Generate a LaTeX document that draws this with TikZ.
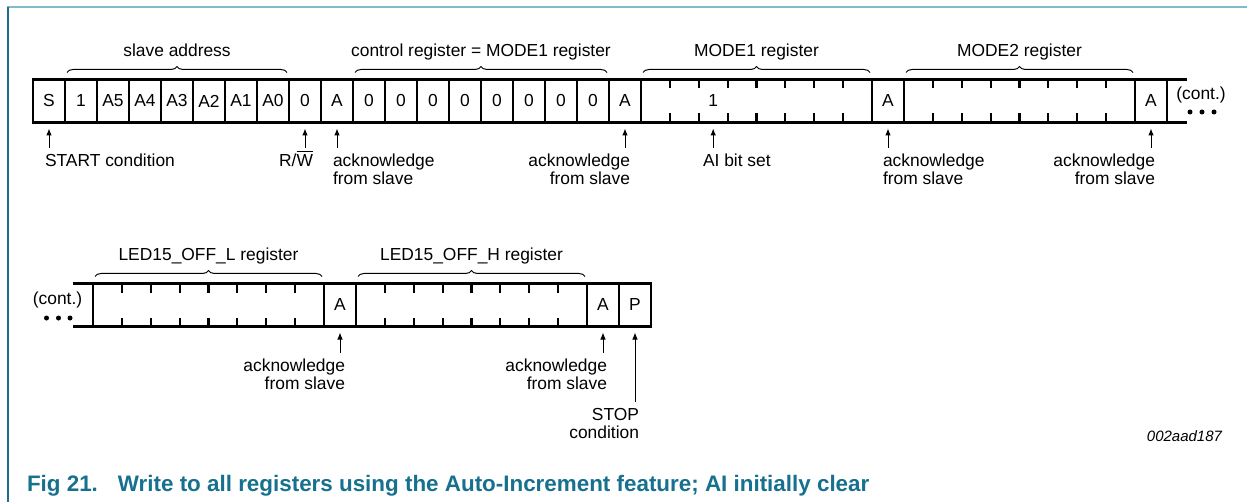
\documentclass[tikz,border=0pt]{standalone}
\usepackage{fontspec}
\setmainfont{Liberation Sans}
\usetikzlibrary{arrows.meta,positioning,calc,decorations.pathreplacing}
\definecolor{frametop}{RGB}{125,188,200}
\definecolor{frameleft}{RGB}{28,112,142}
\definecolor{figblue}{RGB}{22,112,142}

\begin{document}
\begin{tikzpicture}[
  x=0.5pt, y=-0.5pt,
  >={Latex[length=3.5pt,width=2.8pt]},
  every node/.style={font=\fontsize{8.7}{9}\selectfont},
  cell/.style={draw, line width=1.3pt, minimum width=16pt, minimum height=21.5pt, inner sep=0pt, outer sep=0pt},
  reg/.style={cell, minimum width=115.5pt},
  lbl/.style={inner sep=0pt, outer sep=0pt},
  brc/.style={decorate, decoration={brace, amplitude=3pt}, line width=0.5pt},
  tip/.style={->, line width=0.5pt, shorten <=3pt, shorten >=3pt},
  tick/.style={line width=1.1pt}
]
\useasboundingbox (0,0) rectangle (1247,502);

% Rahmen
\draw[frametop, line width=1pt] (7,7.5) -- (1247,7.5);
\draw[frameleft, line width=1pt] (7.5,7) -- (7.5,502);

% Obere Zeile
\node[cell] (S) at (49,101) {S};
\node[cell, right=0pt of S] (b1) {1};
\node[cell, right=0pt of b1] (a5) {A5};
\node[cell, right=0pt of a5] (a4) {A4};
\node[cell, right=0pt of a4] (a3) {A3};
\node[cell, right=0pt of a3] (a2) {A2};
\node[cell, right=0pt of a2] (a1) {A1};
\node[cell, right=0pt of a1] (a0) {A0};
\node[cell, right=0pt of a0] (rw) {0};
\node[cell, right=0pt of rw] (ack1) {A};
\node[cell, right=0pt of ack1] (z1) {0};
\node[cell, right=0pt of z1] (z2) {0};
\node[cell, right=0pt of z2] (z3) {0};
\node[cell, right=0pt of z3] (z4) {0};
\node[cell, right=0pt of z4] (z5) {0};
\node[cell, right=0pt of z5] (z6) {0};
\node[cell, right=0pt of z6] (z7) {0};
\node[cell, right=0pt of z7] (z8) {0};
\node[cell, right=0pt of z8] (ack2) {A};
\node[reg, right=0pt of ack2] (mode1) {};
\node[cell, right=0pt of mode1] (ack3) {A};
\node[reg, right=0pt of ack3] (mode2) {};
\node[cell, right=0pt of mode2] (ack4) {A};
\node at ($(mode1.west)!0.3125!(mode1.east)$) (aibit) {1};
\draw[line width=1.3pt] (ack4.north east) -- ++(20,0);
\draw[line width=1.3pt] (ack4.south east) -- ++(20,0);
\node[lbl] (contR) at (1201,95) {(cont.)};
\foreach \dx in {-11,1,13} \fill ($(contR)+(\dx,17)$) circle (1.25pt);

% Untere Zeile
\node[reg] (offl) at (208.5,305) {};
\node[cell, right=0pt of offl] (ack5) {A};
\node[reg, right=0pt of ack5] (offh) {};
\node[cell, right=0pt of offh] (ack6) {A};
\node[cell, right=0pt of ack6] (stop) {P};
\draw[line width=1.3pt] (offl.north west) -- ++(-20,0);
\draw[line width=1.3pt] (offl.south west) -- ++(-20,0);
\node[lbl] (contL) at (57.5,300) {(cont.)};
\foreach \dx in {-11,1,12.5} \fill ($(contL)+(\dx,18)$) circle (1.25pt);

% Bit-Striche
\foreach \r in {mode1,mode2,offl,offh}
  \foreach \k in {1,...,7} {
    \draw[tick] ($(\r.north west)!\k/8!(\r.north east)$) -- ++(0,9);
    \draw[tick] ($(\r.south west)!\k/8!(\r.south east)$) -- ++(0,-9);
  }

% Klammern
\draw[brc] ([xshift=1pt,yshift=3.5pt]b1.north west) -- ([xshift=-1pt,yshift=3.5pt]a0.north east)
  node[midway, anchor=base, yshift=8pt] {slave address};
\draw[brc] ([xshift=1pt,yshift=3.5pt]z1.north west) -- ([xshift=-1pt,yshift=3.5pt]z8.north east)
  node[midway, anchor=base, yshift=8pt] {control register = MODE1 register};
\draw[brc] ([xshift=1pt,yshift=3.5pt]mode1.north west) -- ([xshift=-1pt,yshift=3.5pt]mode1.north east)
  node[midway, anchor=base, yshift=8pt] {MODE1 register};
\draw[brc] ([xshift=1pt,yshift=3.5pt]mode2.north west) -- ([xshift=-1pt,yshift=3.5pt]mode2.north east)
  node[midway, anchor=base, yshift=8pt] {MODE2 register};
\draw[brc] ([xshift=1pt,yshift=3.5pt]offl.north west) -- ([xshift=-1pt,yshift=3.5pt]offl.north east)
  node[midway, anchor=base, yshift=8pt] {LED15\_OFF\_L register};
\draw[brc] ([xshift=1pt,yshift=3.5pt]offh.north west) -- ([xshift=-1pt,yshift=3.5pt]offh.north east)
  node[midway, anchor=base, yshift=8pt] {LED15\_OFF\_H register};

% Beschriftungen unten
\node[lbl, anchor=north west] (lStart) at (45,154) {START condition};
\node[lbl, anchor=north east] (lRW) at (313,154) {R/\smash{$\overline{\mbox{W}}$}};
\node[lbl, anchor=north west, align=left] (lAck1) at (333,154) {acknowledge\\from slave};
\node[lbl, anchor=north east, align=right] (lAck2) at (630,154) {acknowledge\\from slave};
\node[lbl, anchor=north west] (lAI) at (703,154) {AI bit set};
\node[lbl, anchor=north west, align=left] (lAck3) at (883,154) {acknowledge\\from slave};
\node[lbl, anchor=north east, align=right] (lAck4) at (1155,154) {acknowledge\\from slave};
\node[lbl, anchor=north east, align=right] (lAck5) at (345,359) {acknowledge\\from slave};
\node[lbl, anchor=north east, align=right] (lAck6) at (607,359) {acknowledge\\from slave};
\node[lbl, anchor=north east, align=right] (lStop) at (639,408) {STOP\\condition};

% Pfeile
\draw[tip] (lStart.north -| S.south) -- (S.south);
\draw[tip] (lRW.north -| rw.south) -- (rw.south);
\draw[tip] (lAck1.north -| ack1.south) -- (ack1.south);
\draw[tip] (lAck2.north -| ack2.south) -- (ack2.south);
\draw[tip] (lAI.north -| aibit) -- (aibit |- mode1.south);
\draw[tip] (lAck3.north -| ack3.south) -- (ack3.south);
\draw[tip] (lAck4.north -| ack4.south) -- (ack4.south);
\draw[tip] (lAck5.north -| ack5.south) -- (ack5.south);
\draw[tip] (lAck6.north -| ack6.south) -- (ack6.south);
\draw[tip] (lStop.north -| stop.south) -- (stop.south);

% Kennung und Bildunterschrift
\node[lbl, anchor=base east, font=\fontsize{7.5}{9}\selectfont\itshape] (figid) at (1222,441) {002aad187};
\node[lbl, anchor=base west, font=\fontsize{11.2}{13}\selectfont\bfseries, text=figblue] (cap) at (27,491)
  {Fig 21.\hspace{10pt}Write to all registers using the Auto-Increment feature; AI initially clear};

\end{tikzpicture}
\end{document}
